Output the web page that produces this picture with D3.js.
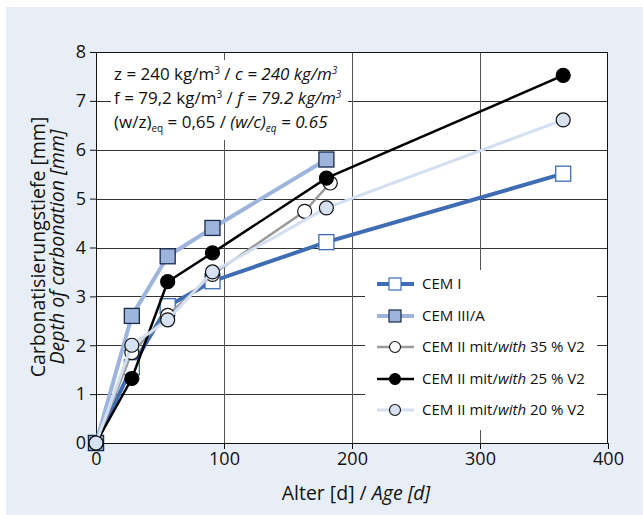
<!DOCTYPE html>
<html><head><meta charset="utf-8">
<script src="https://cdn.jsdelivr.net/npm/d3@7/dist/d3.min.js"></script>
<style>body{margin:0;background:#fff}svg{display:block;font-family:"Open Sans",sans-serif}</style>
</head><body><svg id="c" width="643" height="515"></svg>
<script>
const xTicks = [0, 100, 200, 300, 400];
const yTicks = [0, 1, 2, 3, 4, 5, 6, 7, 8];
const seriesNames = ["CEM I", "CEM III/A", "CEM II mit/with 35 % V2", "CEM II mit/with 25 % V2", "CEM II mit/with 20 % V2"];
const cem1 = [[0,0],[28,1.55],[56,2.8],[91,3.31],[180,4.11],[365,5.51]];
const cem3a = [[0,0],[28,2.6],[56,3.82],[91,4.4],[180,5.8]];
const v35 = [[0,0],[28,1.85],[56,2.61],[91,3.45],[163,4.74],[183,5.32]];
const v25 = [[0,0],[28,1.32],[56,3.3],[91,3.89],[180,5.42],[365,7.52]];
const v20 = [[0,0],[28,2.0],[56,2.52],[91,3.5],[180,4.81],[365,6.61]];

const svg = d3.select("#c");
svg.append("rect").attr("x",6).attr("y",7).attr("width",637).attr("height",508).attr("fill","#e8eef6");
const L=96,R=608,T=52,B=443;
const x = d3.scaleLinear().domain([0,400]).range([L,R]);
const y = d3.scaleLinear().domain([0,8]).range([B,T]);
svg.append("rect").attr("x",L).attr("y",T).attr("width",R-L).attr("height",B-T).attr("fill","#fff");
// grid
const g = svg.append("g");
g.selectAll("line.h").data(yTicks.slice(1,-1)).join("line").attr("x1",L).attr("x2",R)
 .attr("y1",d=>Math.round(y(d))+0.5).attr("y2",d=>Math.round(y(d))+0.5).attr("stroke","#333").attr("stroke-width",1);
g.selectAll("line.v").data(xTicks.slice(1,-1)).join("line").attr("y1",T).attr("y2",B)
 .attr("x1",d=>Math.round(x(d))+0.5).attr("x2",d=>Math.round(x(d))+0.5).attr("stroke","#555").attr("stroke-width",1);
// annotation box
svg.append("rect").attr("x",111).attr("y",60).attr("width",237).attr("height",80).attr("fill","#fff");
// legend box
svg.append("rect").attr("x",365).attr("y",270).attr("width",232).attr("height",160).attr("fill","#fff");
// frame
svg.append("rect").attr("x",L+0.5).attr("y",T+0.5).attr("width",R-L-1).attr("height",B-T).attr("fill","none").attr("stroke","#111").attr("stroke-width",1);
// axes
const xa = svg.append("g").attr("transform",`translate(0,${B})`).call(d3.axisBottom(x).tickValues(xTicks).tickSize(6).tickPadding(3));
const ya = svg.append("g").attr("transform",`translate(${L},0)`).call(d3.axisLeft(y).tickValues(yTicks).tickSize(6).tickPadding(4));
[xa,ya].forEach(a=>{a.select(".domain").remove();a.selectAll("line").attr("stroke","#111");
 a.selectAll("text").attr("font-size",18).attr("fill","#111").attr("font-family","Open Sans, sans-serif");});

const line = d3.line().x(d=>x(d[0])).y(d=>y(d[1]));
const styles = [
 {data:cem1, stroke:"#3e6db4", w:4, shape:"sq", fill:"#fff", ms:"#3e6db4"},
 {data:cem3a, stroke:"#9db4dc", w:4, shape:"sq", fill:"#9db4dc", ms:"#1a2a4a"},
 {data:v35, stroke:"#9a9a9a", w:2.5, shape:"ci", fill:"#fff", ms:"#111"},
 {data:v25, stroke:"#000", w:2.5, shape:"ci", fill:"#000", ms:"#000"},
 {data:v20, stroke:"#d3dff0", w:3, shape:"ci", fill:"#d6e1f1", ms:"#111"}
];
function marker(sel, s, cx, cy){
 if(s.shape==="sq") sel.append("rect").attr("x",cx-7.5).attr("y",cy-7.5).attr("width",15).attr("height",15)
   .attr("fill",s.fill).attr("stroke",s.ms).attr("stroke-width",1.3);
 else sel.append("circle").attr("cx",cx).attr("cy",cy).attr("r",7).attr("fill",s.fill).attr("stroke",s.ms).attr("stroke-width",1.2);
}
styles.forEach(s=>{
 const gg = svg.append("g");
 gg.append("path").attr("d",line(s.data)).attr("fill","none").attr("stroke",s.stroke).attr("stroke-width",s.w);
 s.data.forEach(d=>marker(gg,s,x(d[0]),y(d[1])));
});
// legend
const lg = svg.append("g");
const rowY=[284,316,347,379,410];
styles.forEach((s,i)=>{
 const yy=rowY[i];
 lg.append("line").attr("x1",377).attr("x2",414).attr("y1",yy).attr("y2",yy).attr("stroke",s.stroke).attr("stroke-width",s.w);
 if(s.shape==="sq") lg.append("rect").attr("x",389).attr("y",yy-6).attr("width",12).attr("height",12).attr("fill",s.fill).attr("stroke",s.ms).attr("stroke-width",1.2);
 else lg.append("circle").attr("cx",395).attr("cy",yy).attr("r",5.5).attr("fill",s.fill).attr("stroke",s.ms).attr("stroke-width",1.1);
 const t = lg.append("text").attr("x",422).attr("y",yy+5).attr("font-size",15).attr("fill","#111");
 const nm = seriesNames[i];
 if(nm.includes("mit/with")){
   const parts = nm.split("mit/with");
   t.append("tspan").text(parts[0]+"mit/");
   t.append("tspan").attr("font-style","italic").text("with");
   t.append("tspan").text(parts[1]);
 } else t.text(nm);
});
// annotation
const an = svg.append("g").attr("font-size",17).attr("fill","#111");
const a1 = an.append("text").attr("x",114).attr("y",80);
a1.append("tspan").text("z = 240 kg/m");a1.append("tspan").attr("font-size",10).attr("dy",-6).text("3");
a1.append("tspan").attr("dy",6).text(" / ");a1.append("tspan").attr("font-style","italic").text("c = 240 kg/m");
a1.append("tspan").attr("font-style","italic").attr("font-size",10).attr("dy",-6).text("3");
const a2 = an.append("text").attr("x",114).attr("y",104);
a2.append("tspan").text("f = 79,2 kg/m");a2.append("tspan").attr("font-size",10).attr("dy",-6).text("3");
a2.append("tspan").attr("dy",6).text(" / ");a2.append("tspan").attr("font-style","italic").text("f = 79.2 kg/m");
a2.append("tspan").attr("font-style","italic").attr("font-size",10).attr("dy",-6).text("3");
const a3 = an.append("text").attr("x",114).attr("y",128);
a3.append("tspan").text("(w/z)");a3.append("tspan").attr("font-size",10).attr("dy",4).text("eq");
a3.append("tspan").attr("dy",-4).text(" = 0,65 / ");a3.append("tspan").attr("font-style","italic").text("(w/c)");
a3.append("tspan").attr("font-style","italic").attr("font-size",10).attr("dy",4).text("eq");
a3.append("tspan").attr("font-style","italic").attr("dy",-4).text(" = 0.65");
// axis titles
const xt = svg.append("text").attr("x",356).attr("y",500).attr("text-anchor","middle").attr("font-size",19.5).attr("fill","#111");
xt.append("tspan").text("Alter [d] / ");xt.append("tspan").attr("font-style","italic").text("Age [d]");
svg.append("text").attr("transform","translate(45,247) rotate(-90)").attr("text-anchor","middle").attr("font-size",19.5).attr("fill","#111").text("Carbonatisierungstiefe [mm]");
svg.append("text").attr("transform","translate(64,247) rotate(-90)").attr("text-anchor","middle").attr("font-size",19.5).attr("fill","#111").attr("font-style","italic").text("Depth of carbonation [mm]");
</script></body></html>
